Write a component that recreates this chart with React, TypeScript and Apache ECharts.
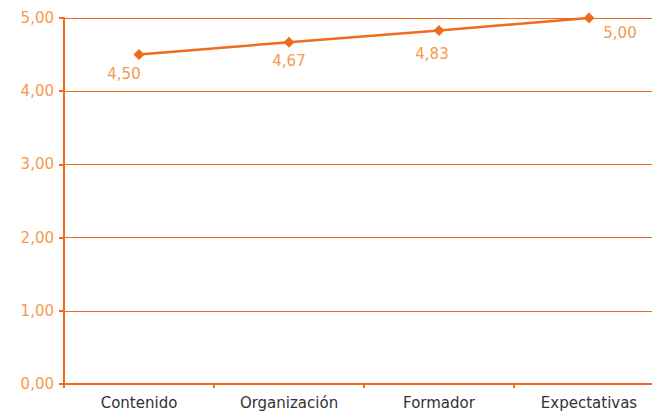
import React, { useEffect, useRef } from "react";
import * as echarts from "echarts";

const categories = ["Contenido", "Organización", "Formador", "Expectativas"];
const values = [4.5, 4.67, 4.83, 5.0];
const labelOffsets = [[-15, 19], [0, 19], [-7, 24], [31, 15]];

const ORANGE = "#F26B1D";
const LABEL_ORANGE = "#F59A4E";
const FONT = "DejaVu Sans";

export default function App() {
  const ref = useRef<HTMLDivElement>(null);
  useEffect(() => {
    const chart = echarts.init(ref.current!, null, { renderer: "svg" });
    chart.setOption({
      animation: false,
      grid: { left: 64, right: 0, top: 18, bottom: 30, containLabel: false },
      xAxis: {
        type: "category",
        data: categories,
        boundaryGap: true,
        axisLine: { lineStyle: { color: ORANGE, width: 2 } },
        axisTick: { show: true, length: 4, lineStyle: { color: ORANGE, width: 2 } },
        axisLabel: { color: "#333333", fontFamily: FONT, fontSize: 15, margin: 11 },
      },
      yAxis: {
        type: "value",
        min: 0,
        max: 5,
        interval: 1,
        axisLine: { show: true, lineStyle: { color: ORANGE, width: 2 } },
        axisTick: { show: true, length: 5, lineStyle: { color: ORANGE, width: 2 } },
        axisLabel: {
          color: LABEL_ORANGE,
          fontFamily: FONT,
          fontSize: 15,
          margin: 10,
          formatter: (v: number) => v.toFixed(2).replace(".", ","),
        },
        splitLine: { show: true, lineStyle: { color: ORANGE, width: 1.2 } },
      },
      series: [
        {
          type: "line",
          data: values.map((v, i) => ({
            value: v,
            label: {
              show: true,
              position: "inside",
              offset: labelOffsets[i],
              color: LABEL_ORANGE,
              fontFamily: FONT,
              fontSize: 15,
              formatter: (p: any) => Number(p.value).toFixed(2).replace(".", ","),
            },
          })),
          symbol: "diamond",
          symbolSize: 11,
          itemStyle: { color: ORANGE },
          lineStyle: { color: ORANGE, width: 2.5 },
        },
      ],
    });
    return () => chart.dispose();
  }, []);
  return (
    <div style={{ width: 652, height: 414, position: "absolute", left: 0, top: 0, overflow: "hidden" }}>
      <div ref={ref} style={{ width: 664, height: 414 }} />
    </div>
  );
}
